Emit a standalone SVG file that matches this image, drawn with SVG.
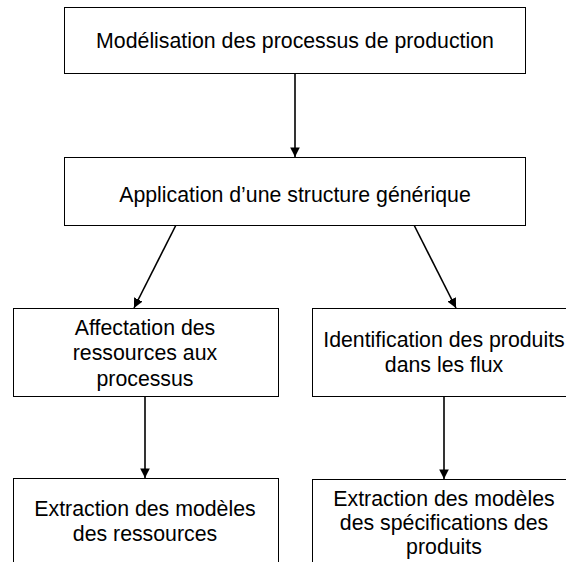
<svg xmlns="http://www.w3.org/2000/svg" width="566" height="562" viewBox="0 0 566 562">
<defs>
<marker id="ah" viewBox="0 0 10 10" refX="10" refY="5" markerWidth="6" markerHeight="6" markerUnits="strokeWidth" orient="auto">
<path d="M0,0 L10,5 L0,10 z" fill="#000"/>
</marker>
<style>
.box{fill:#fff;stroke:#000;stroke-width:1}
.t{font-family:"Liberation Sans",Arial,sans-serif;font-size:21.3px;fill:#000;text-anchor:middle}
.c{stroke:#000;stroke-width:1.6;fill:none;marker-end:url(#ah)}
</style>
</defs>
<rect width="566" height="562" fill="#fff"/>
<g id="connectors">
<line class="c" x1="295" y1="73" x2="295" y2="157"/>
<line class="c" x1="176" y1="225" x2="134" y2="308"/>
<line class="c" x1="414" y1="225" x2="456" y2="308"/>
<line class="c" x1="145" y1="396" x2="145" y2="478"/>
<line class="c" x1="444" y1="396" x2="444" y2="479"/>
</g>
<g id="n1">
<rect class="box" x="64.5" y="7.5" width="461" height="66"/>
<text class="t" x="295" y="48">Modélisation des processus de production</text>
</g>
<g id="n2">
<rect class="box" x="64.5" y="157.5" width="461" height="68"/>
<text class="t" x="295" y="202">Application d’une structure générique</text>
</g>
<g id="n3">
<rect class="box" x="13.5" y="308.5" width="265" height="88"/>
<text class="t" x="145" y="335">Affectation des</text>
<text class="t" x="145" y="360">ressources aux</text>
<text class="t" x="145" y="386">processus</text>
</g>
<g id="n4">
<rect class="box" x="312.5" y="308.5" width="265" height="88"/>
<text class="t" x="444" y="347">Identification des produits</text>
<text class="t" x="444" y="372">dans les flux</text>
</g>
<g id="n5">
<rect class="box" x="13.5" y="478.5" width="265" height="100"/>
<text class="t" x="145" y="516">Extraction des modèles</text>
<text class="t" x="145" y="541">des ressources</text>
</g>
<g id="n6">
<rect class="box" x="312.5" y="479.5" width="265" height="100"/>
<text class="t" x="444" y="506">Extraction des modèles</text>
<text class="t" x="444" y="530">des spécifications des</text>
<text class="t" x="444" y="554">produits</text>
</g>
</svg>
